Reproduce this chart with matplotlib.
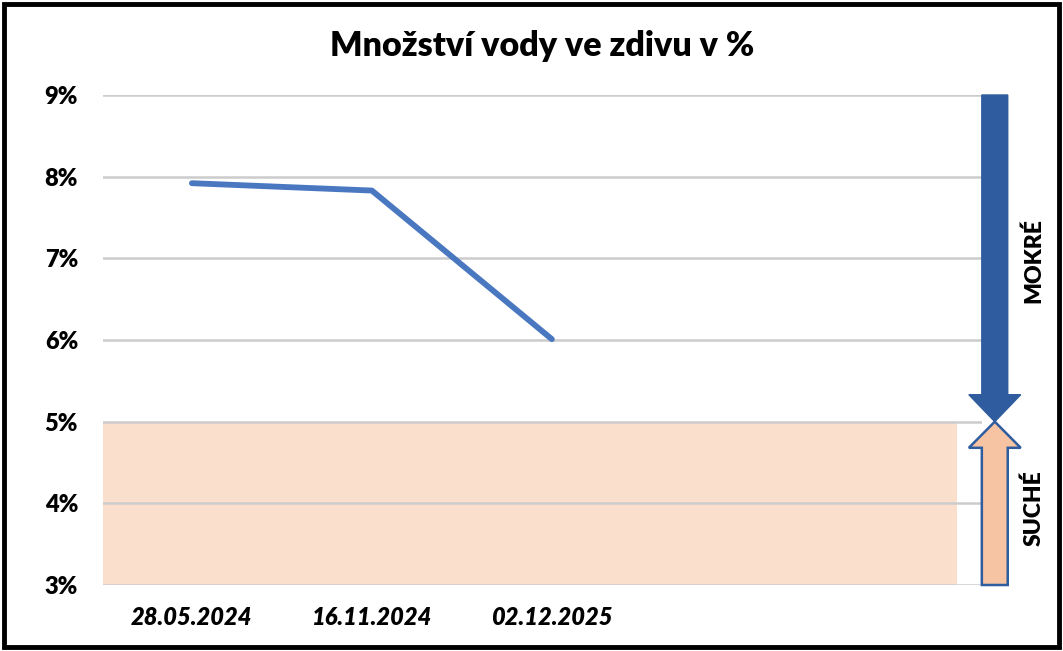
import matplotlib.pyplot as plt
from matplotlib.patches import Polygon, Rectangle
from matplotlib.ticker import FuncFormatter

# data
dates = ["28.05.2024", "16.11.2024", "02.12.2025"]
moisture = [7.92, 7.83, 6.01]  # % vody ve zdivu
y_ticks = [3, 4, 5, 6, 7, 8, 9]
dry_limit = 5  # pod touto hranici je zdivo suche
y_min, y_max = 3, 9

plt.rcParams['font.family'] = ['Lato', 'DejaVu Sans']

fig = plt.figure(figsize=(10.63, 6.51), dpi=100)
ax = fig.add_axes([103 / 1063, 1 - 585 / 651, (982 - 103) / 1063, (585 - 95) / 651])

x = list(range(len(dates)))
ax.set_xlim(-0.494, 4.39)
ax.set_ylim(y_min, y_max)

# shaded "dry" band
ax.fill_between([-0.494, 4.25], y_min, dry_limit, color='#fadfcd', lw=0, zorder=1)

ax.plot(x, moisture, color='#4a78c0', lw=4.2, solid_capstyle='round', zorder=3)

ax.set_yticks(y_ticks)
ax.yaxis.set_major_formatter(FuncFormatter(lambda v, p: f"{v:.0f}%"))
ax.set_xticks(x)
ax.set_xticklabels(dates, fontstyle='italic')
ax.grid(axis='y', color='#cccccc', lw=1.8, zorder=2)
ax.tick_params(length=0)
ax.tick_params(axis='y', pad=18, labelsize=17)
ax.tick_params(axis='x', pad=15, labelsize=17)
for lbl in ax.get_xticklabels() + ax.get_yticklabels():
    lbl.set_fontweight('heavy')
for s in ax.spines.values():
    s.set_visible(False)

ax.set_title("Množství vody ve zdivu v %", fontsize=24.5, fontweight='heavy', pad=28)

# arrows
cx, sw, hw = 4.461, 0.072, 0.144
down = [(cx - sw, y_max), (cx + sw, y_max), (cx + sw, 5.33), (cx + hw, 5.33),
        (cx, dry_limit), (cx - hw, 5.33), (cx - sw, 5.33)]
up = [(cx - sw, y_min), (cx + sw, y_min), (cx + sw, 4.68), (cx + hw, 4.68),
      (cx, dry_limit), (cx - hw, 4.68), (cx - sw, 4.68)]
ax.add_patch(Polygon(down, closed=True, fc='#2e5c9e', ec='#2e5c9e', lw=1, clip_on=False, zorder=4))
ax.add_patch(Polygon(up, closed=True, fc='#f6c3a3', ec='#2e5c9e', lw=1.8, clip_on=False, zorder=4))

ax.text(1034 / 1063, 1 - 261 / 651, "MOKRÉ", transform=fig.transFigure, rotation=90,
        ha='center', va='center', fontsize=16.5, fontweight='heavy')
ax.text(1034 / 1063, 1 - 508 / 651, "SUCHÉ", transform=fig.transFigure, rotation=90,
        ha='center', va='center', fontsize=16.5, fontweight='heavy')

# chart border
fig.patches.append(Rectangle((4 / 1063, 4 / 651), 1 - 8 / 1063, 1 - 8 / 651,
                             transform=fig.transFigure, fill=False, ec='black', lw=3.5))

fig.savefig('out.png', dpi=100)
